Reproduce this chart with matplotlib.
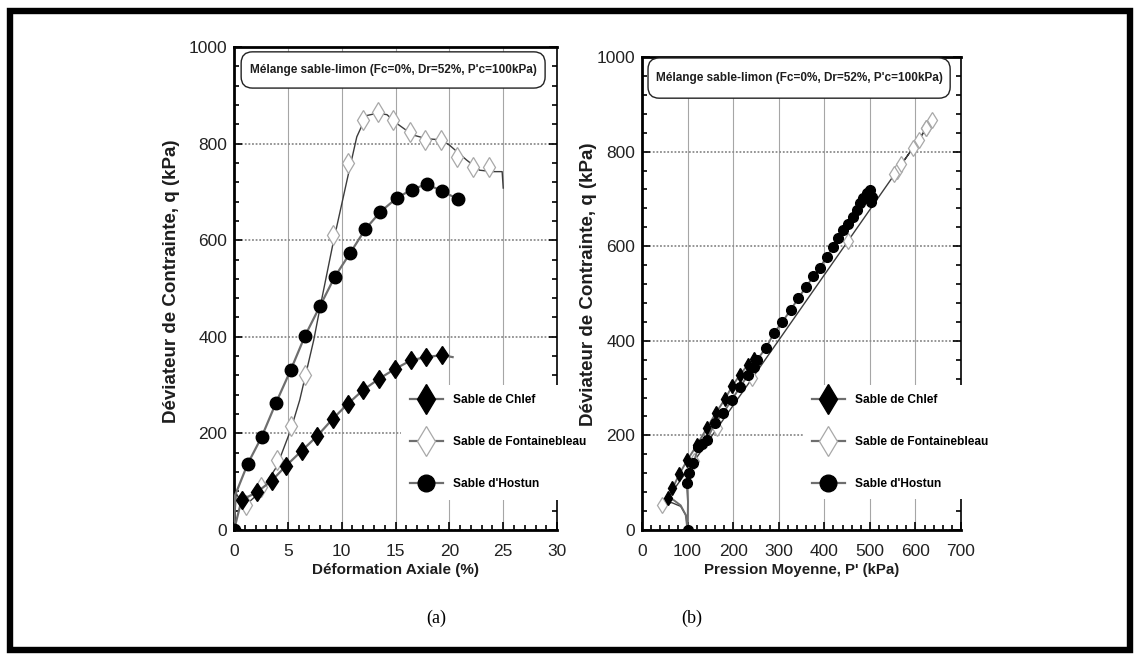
import matplotlib
matplotlib.use("Agg")
import matplotlib.pyplot as plt
from matplotlib.lines import Line2D
from matplotlib.patches import Rectangle, FancyBboxPatch
from matplotlib.ticker import MultipleLocator

# ---------------- data ----------------
title = "Mélange sable-limon (Fc=0%, Dr=52%, P'c=100kPa)"
series_names = ["Sable de Chlef", "Sable de Fontainebleau", "Sable d'Hostun"]

# (a) deviator stress vs axial strain
chlef_eps = [0, 0.7, 2.1, 3.5, 4.83, 6.29, 7.74, 9.16, 10.56, 12.0, 13.46, 14.92, 16.4, 17.8, 19.3, 20.3]
chlef_q = [0, 62, 78, 102, 133, 164, 195, 230, 261, 290, 313, 333, 351, 358, 362, 358]

hostun_eps = [0, 0.1, 1.27, 2.57, 3.87, 5.26, 6.59, 7.99, 9.35, 10.8, 12.2, 13.6, 15.1, 16.5, 17.9, 19.3, 20.8]
hostun_q = [0, 72, 137, 193, 262, 331, 402, 464, 524, 574, 623, 659, 687, 705, 716, 702, 685]

fb_curve_eps = [0, 0.2, 0.6, 1.1, 2.4, 3.96, 5.26, 6.1, 7.4, 8.0, 9.2, 10.5, 11.4, 12.3, 13.3,
                14.2, 15.1, 16.6, 17.9, 19.2, 20.0, 21.6, 22.8, 24.0, 24.9, 25.0]
fb_curve_q = [0, 76, 60, 52, 78, 131, 207, 269, 393, 462, 594, 725, 814, 858, 863,
              860, 842, 818, 810, 808, 797, 766, 745, 742, 742, 708]
fb_eps = [1.1, 2.5, 3.96, 5.26, 6.6, 9.2, 10.6, 12.0, 13.4, 14.8, 16.3, 17.7, 19.2, 20.7, 22.2, 23.7]
fb_q = [52, 88, 145, 215, 321, 611, 760, 849, 866, 849, 825, 807, 807, 773, 752, 752]

# (b) stress paths q vs p'
chlef_p = [100, 96, 85, 70, 58, 67, 82, 99.5, 121, 142, 162, 181.5, 198, 215, 232, 246]
chlef_qp = [0, 32, 52, 63, 67, 88, 118, 148, 180, 215, 247, 276, 304, 328, 349, 361]

hostun_p = [100, 101, 98, 104, 113, 124, 132, 142, 160, 178, 197, 215, 233, 245, 252, 272, 290, 308,
            326, 343, 360, 376, 391, 405, 420, 431, 442, 453, 464, 471, 478, 486, 493, 500, 505, 502]
hostun_qp = [0, 60, 100, 120, 141, 176, 182, 190, 226, 247, 275, 302, 328, 345, 359, 385, 417, 440,
             465, 490, 514, 536, 555, 578, 599, 617, 634, 648, 662, 677, 691, 701, 712, 718, 705, 694]

fb_p = [100, 97, 85, 65, 45, 114, 165, 242, 452, 560, 624, 636, 624, 607, 594, 569, 554]
fb_qp = [0, 30, 50, 58, 52, 145, 215, 321, 611, 760, 849, 866, 849, 825, 807, 773, 752]

# ---------------- styles ----------------
SANS = ["Liberation Sans", "DejaVu Sans"]
SERIF = ["Liberation Serif", "DejaVu Serif"]
LINE_GREY = "#6e6e6e"
FB_LINE = "#3c3c3c"
FB_EDGE = "#a8a8a8"
TXT = "#1e1e1e"

plt.rcParams["font.family"] = SANS

fig = plt.figure(figsize=(11.35, 6.54), dpi=100)
fig.patch.set_facecolor("white")

ax_a = fig.add_axes([0.2062, 0.1896, 0.2846, 0.7385])
ax_b = fig.add_axes([0.5656, 0.1896, 0.2811, 0.7232])


def style_axes(ax, xmax, xmajor, xminor):
    ax.set_xlim(0, xmax)
    ax.set_ylim(0, 1000)
    ax.xaxis.set_major_locator(MultipleLocator(xmajor))
    ax.xaxis.set_minor_locator(MultipleLocator(xminor))
    ax.yaxis.set_major_locator(MultipleLocator(200))
    ax.yaxis.set_minor_locator(MultipleLocator(40))
    ax.tick_params(which="both", direction="in", left=True, right=True, top=False,
                   bottom=True, color="black", width=1.2, labelsize=12.5, labelcolor="#222222")
    ax.tick_params(which="major", length=6)
    ax.tick_params(which="minor", length=3.5)
    ax.tick_params(axis="x", which="major", pad=10)
    ax.tick_params(axis="y", which="major", pad=5)
    for side in ("left", "bottom", "top"):
        ax.spines[side].set_linewidth(2.0)
    ax.spines["right"].set_linewidth(1.2)
    ax.grid(axis="x", which="major", color="#a6a6a6", lw=0.8, ls="-")
    ax.grid(axis="y", which="major", color="#8c8c8c", lw=1.3, ls=(0, (1, 1)))
    ax.set_axisbelow(True)
    ax.set_ylabel("Déviateur de Contrainte, q (kPa)", fontweight="bold", fontsize=13.5, color=TXT)


style_axes(ax_a, 30, 5, 1)
style_axes(ax_b, 700, 100, 20)
ax_a.yaxis.set_label_coords(-0.167, 0.515)
ax_b.yaxis.set_label_coords(-0.14, 0.52)

ax_a.set_xlabel("Déformation Axiale (%)", fontweight="bold", fontsize=11, color=TXT, labelpad=3)
ax_b.set_xlabel("Pression Moyenne, P' (kPa)", fontweight="bold", fontsize=10.8, color=TXT, labelpad=3)

# ---- (a) ----
ax_a.plot(fb_curve_eps, fb_curve_q, color=FB_LINE, lw=1.0, zorder=3)
ax_a.plot(fb_eps, fb_q, ls="none", marker="d", ms=10, mfc="white", mec=FB_EDGE, mew=0.9, zorder=3)
ax_a.plot(chlef_eps, chlef_q, color=LINE_GREY, lw=1.6, marker="d", ms=9.5, mfc="black",
          mec="black", markevery=list(range(1, 15)), zorder=4)
ax_a.plot(hostun_eps, hostun_q, color=LINE_GREY, lw=1.6, marker="o", ms=9, mfc="black",
          mec="black", markevery=[0] + list(range(2, len(hostun_eps))), zorder=4)

# ---- (b) ----
ax_b.plot(fb_p, fb_qp, color=FB_LINE, lw=1.0, marker="d", ms=8, mfc="white", mec=FB_EDGE,
          mew=0.9, markevery=list(range(4, len(fb_p))), zorder=3)
ax_b.plot(chlef_p, chlef_qp, color=LINE_GREY, lw=1.4, marker="d", ms=7.5, mfc="black",
          mec="black", markevery=list(range(4, len(chlef_p))), zorder=4)
ax_b.plot(hostun_p, hostun_qp, color=LINE_GREY, lw=1.4, marker="o", ms=7, mfc="black",
          mec="black", markevery=[0] + list(range(2, len(hostun_p))), zorder=4)

# legend handles
handles = [
    Line2D([], [], color=LINE_GREY, lw=1.6, marker="d", ms=15, mfc="black", mec="black"),
    Line2D([], [], color=LINE_GREY, lw=1.6, marker="d", ms=15, mfc="white", mec=FB_EDGE, mew=0.9),
    Line2D([], [], color=LINE_GREY, lw=1.6, marker="o", ms=12, mfc="black", mec="black"),
]

for ax, anchor in ((ax_a, (0.516, 0.182)), (ax_b, (0.504, 0.186))):
    leg = ax.legend(handles, series_names, loc="center left", bbox_to_anchor=anchor,
                    frameon=True, fancybox=False, facecolor="white", edgecolor="none",
                    framealpha=1.0, handlelength=2.7, handletextpad=0.85, labelspacing=2.5,
                    borderpad=0.8, borderaxespad=0.0,
                    prop={"family": SANS, "weight": "bold", "size": 8.6})
    leg.set_zorder(6)

# title boxes: rounded frame at a fixed size, label centred inside
box_specs = ((ax_a, (0.022, 0.915, 0.941, 0.075)), (ax_b, (0.019, 0.913, 0.947, 0.085)))
for ax, (bx, by, bw, bh) in box_specs:
    pos = ax.get_position()
    aspect = (pos.width * 1135) / (pos.height * 654)
    ax.add_patch(FancyBboxPatch((bx, by), bw, bh, boxstyle="round,pad=0,rounding_size=0.035",
                                mutation_aspect=aspect, transform=ax.transAxes, fc="white",
                                ec="#222222", lw=1.0, zorder=7, clip_on=False))
    ax.text(bx + bw / 2, by + bh / 2, title, transform=ax.transAxes, ha="center",
            va="center", fontweight="bold", fontsize=8.5, color=TXT, zorder=8)

# sub-figure captions
fig.text(436 / 1135, 1 - 618 / 654, "(a)", family=SERIF, fontsize=13, ha="center", va="center")
fig.text(692 / 1135, 1 - 618 / 654, "(b)", family=SERIF, fontsize=13, ha="center", va="center")

# outer frame
fig.add_artist(Rectangle((10 / 1135, 4 / 654), 1120 / 1135, 639 / 654,
                         transform=fig.transFigure, fill=False, ec="black", lw=4.6))

fig.savefig("out.png", dpi=100, facecolor="white")
